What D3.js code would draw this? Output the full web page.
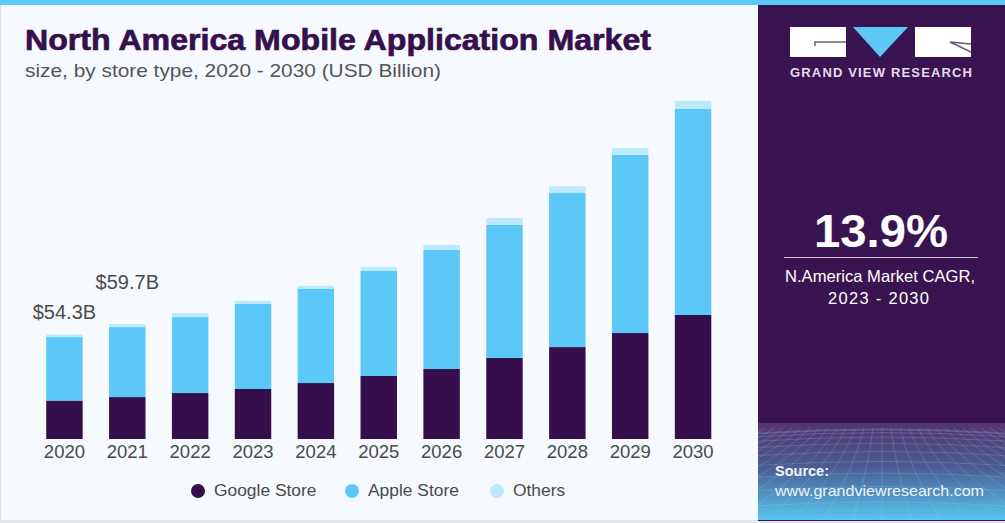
<!DOCTYPE html>
<html>
<head>
<meta charset="utf-8">
<script src="https://cdn.jsdelivr.net/npm/d3@7"></script>
<style>
  html, body { margin: 0; padding: 0; background: #fff; overflow: hidden; }
  text { font-family: "Liberation Sans", Arial, sans-serif; }
</style>
</head>
<body>
<div id="chart"></div>
<script>
// values, USD billion
const years = ["2020","2021","2022","2023","2024","2025","2026","2027","2028","2029","2030"];
const googleStore = [20.0,21.8,23.9,26.0,29.1,32.8,36.4,42.1,47.8,55.1,64.5];
const appleStore = [33.0,36.4,39.5,44.2,48.9,54.6,61.9,69.2,80.1,92.6,107.1];
const others = [1.3,1.5,2.1,1.6,1.6,2.1,2.6,3.6,3.6,3.6,4.2];
const seriesNames = ["Google Store","Apple Store","Others"];
const seriesColors = ["#350f4c","#5bc8f7","#bde9fc"];
const totalLabels = {"2020": "$54.3B", "2021": "$59.7B"};

const width = 1005, height = 523,
  panelX = 758,
  baseline = 439;

const svg = d3.select("#chart")
  .append("svg")
  .attr("width", width)
  .attr("height", height)
  .style("display", "block");

const defs = svg.append("defs");
const grad = defs.append("linearGradient")
  .attr("id", "gridfade")
  .attr("x1", 0).attr("x2", 0).attr("y1", 0).attr("y2", 1);
grad.append("stop").attr("offset", "0%").attr("stop-color", "#54346f");
grad.append("stop").attr("offset", "45%").attr("stop-color", "#4a5b90");
grad.append("stop").attr("offset", "100%").attr("stop-color", "#58c6f2");

defs.append("clipPath").attr("id", "gridclip")
  .append("rect").attr("x", panelX).attr("y", 423).attr("width", width - panelX).attr("height", 97);

// backgrounds
svg.append("rect").attr("width", width).attr("height", height).attr("fill", "#f6fafe");
svg.append("rect").attr("x", 0).attr("y", 0).attr("width", 1).attr("height", height).attr("fill", "#dfe3e8");
svg.append("rect").attr("x", 0).attr("y", 520).attr("width", width).attr("height", 3).attr("fill", "#e4e6ea");
svg.append("rect").attr("x", panelX).attr("y", 0).attr("width", width - panelX).attr("height", 521).attr("fill", "#3a1450");
svg.append("rect").attr("x", panelX).attr("y", 423).attr("width", width - panelX).attr("height", 97).attr("fill", "url(#gridfade)");
svg.append("rect").attr("x", 0).attr("y", 0).attr("width", width).attr("height", 5).attr("fill", "#5bc8f5");

// perspective grid in the source panel
const grid = svg.append("g")
  .attr("clip-path", "url(#gridclip)")
  .attr("fill", "none")
  .attr("stroke", "#a9d4f0")
  .attr("stroke-width", 0.6)
  .attr("stroke-opacity", 0.35);
for (let i = 0; i < 11; i++) {
  const t = i / 10;
  const yy = 430 + t * t * 90;
  grid.append("path")
    .attr("d", `M${panelX},${yy + 3} Q${panelX + 124},${yy - 5} ${width},${yy + 3}`);
}
for (let i = -14; i <= 14; i++) {
  const cx = panelX + 124;
  grid.append("path")
    .attr("d", `M${cx + i * 9},428 Q${cx + i * 14},470 ${cx + i * 30},522`);
}

// title
svg.append("text")
  .attr("x", 25).attr("y", 50)
  .attr("font-size", 29.5)
  .attr("font-weight", "bold")
  .attr("fill", "#35104d")
  .attr("stroke", "#35104d")
  .attr("stroke-width", 0.7)
  .attr("textLength", 626)
  .attr("lengthAdjust", "spacingAndGlyphs")
  .text("North America Mobile Application Market");

svg.append("text")
  .attr("x", 25).attr("y", 77)
  .attr("font-size", 18.5)
  .attr("fill", "#555")
  .attr("textLength", 416)
  .attr("lengthAdjust", "spacingAndGlyphs")
  .text("size, by store type, 2020 - 2030 (USD Billion)");

// scales
const xScale = d3.scaleBand()
  .domain(years)
  .range([33, 724.5])
  .paddingInner(0.42)
  .paddingOuter(0.21);

const yScale = d3.scaleLinear()
  .domain([0, 200])
  .range([baseline, baseline - 200 / 0.52]);

const rows = years.map((y, i) => ({
  year: y,
  [seriesNames[0]]: googleStore[i],
  [seriesNames[1]]: appleStore[i],
  [seriesNames[2]]: others[i]
}));
const stacked = d3.stack().keys(seriesNames)(rows);

svg.append("g")
  .selectAll("g")
  .data(stacked)
  .enter()
  .append("g")
  .attr("fill", (d, i) => seriesColors[i])
  .selectAll("rect")
  .data(d => d)
  .enter()
  .append("rect")
  .attr("x", d => xScale(d.data.year))
  .attr("width", xScale.bandwidth())
  .attr("y", d => yScale(d[1]))
  .attr("height", d => yScale(d[0]) - yScale(d[1]));

// axis
const xAxis = svg.append("g")
  .attr("transform", `translate(0,${baseline})`)
  .call(d3.axisBottom(xScale).tickSize(0).tickPadding(6));
xAxis.select(".domain").remove();
xAxis.selectAll("text")
  .attr("font-size", 18.5)
  .style("font-family", '"Liberation Sans", Arial, sans-serif')
  .attr("fill", "#4a4a4a");

// total labels
svg.append("text")
  .attr("x", xScale("2020") + xScale.bandwidth() / 2)
  .attr("y", 319)
  .attr("text-anchor", "middle")
  .attr("font-size", 20)
  .attr("fill", "#4a4a4a")
  .text(totalLabels["2020"]);
svg.append("text")
  .attr("x", xScale("2021") + xScale.bandwidth() / 2)
  .attr("y", 289)
  .attr("text-anchor", "middle")
  .attr("font-size", 20)
  .attr("fill", "#4a4a4a")
  .text(totalLabels["2021"]);

// legend
const legendX = [198, 352, 497];
seriesNames.forEach((name, i) => {
  svg.append("circle")
    .attr("cx", legendX[i]).attr("cy", 491).attr("r", 7)
    .attr("fill", seriesColors[i]);
  svg.append("text")
    .attr("x", legendX[i] + 16).attr("y", 496)
    .attr("font-size", 17.4)
    .attr("fill", "#4a4a4a")
    .text(name);
});

// logo
svg.append("rect").attr("x", 790).attr("y", 27).attr("width", 56).attr("height", 30).attr("fill", "#fff");
svg.append("rect").attr("x", 915).attr("y", 27).attr("width", 56).attr("height", 30).attr("fill", "#fff");
svg.append("path").attr("d", "M853,27 L908,27 L880,57 Z").attr("fill", "#5bc8f5");
svg.append("path").attr("d", "M815,46 L815,42 L846,42").attr("fill", "none").attr("stroke", "#6a5a7c").attr("stroke-width", 1.5);
svg.append("path").attr("d", "M971,44 L950,42 L971,52").attr("fill", "none").attr("stroke", "#6a5a7c").attr("stroke-width", 1.5);
svg.append("text")
  .attr("x", 790).attr("y", 77)
  .attr("font-size", 13)
  .attr("font-weight", "bold")
  .attr("fill", "#e6dcef")
  .attr("textLength", 182)
  .attr("lengthAdjust", "spacing")
  .text("GRAND VIEW RESEARCH");

// CAGR block
svg.append("text")
  .attr("x", 814).attr("y", 247)
  .attr("font-size", 46)
  .attr("font-weight", "bold")
  .attr("fill", "#fff")
  .attr("textLength", 134)
  .attr("lengthAdjust", "spacingAndGlyphs")
  .text("13.9%");
svg.append("rect").attr("x", 784).attr("y", 257).attr("width", 194).attr("height", 1).attr("fill", "#cfc6da");
svg.append("text")
  .attr("x", 785).attr("y", 282)
  .attr("font-size", 16.5)
  .attr("fill", "#fff")
  .attr("textLength", 190)
  .attr("lengthAdjust", "spacingAndGlyphs")
  .text("N.America Market CAGR,");
svg.append("text")
  .attr("x", 828).attr("y", 304)
  .attr("font-size", 16.5)
  .attr("fill", "#fff")
  .attr("textLength", 101)
  .attr("lengthAdjust", "spacing")
  .text("2023 - 2030");

// source
svg.append("text")
  .attr("x", 775).attr("y", 476)
  .attr("font-size", 14.5)
  .attr("font-weight", "bold")
  .attr("fill", "#f1f4fa")
  .text("Source:");
svg.append("text")
  .attr("x", 775).attr("y", 496)
  .attr("font-size", 14.5)
  .attr("fill", "#f1f4fa")
  .attr("textLength", 209)
  .attr("lengthAdjust", "spacingAndGlyphs")
  .text("www.grandviewresearch.com");
</script>
</body>
</html>
